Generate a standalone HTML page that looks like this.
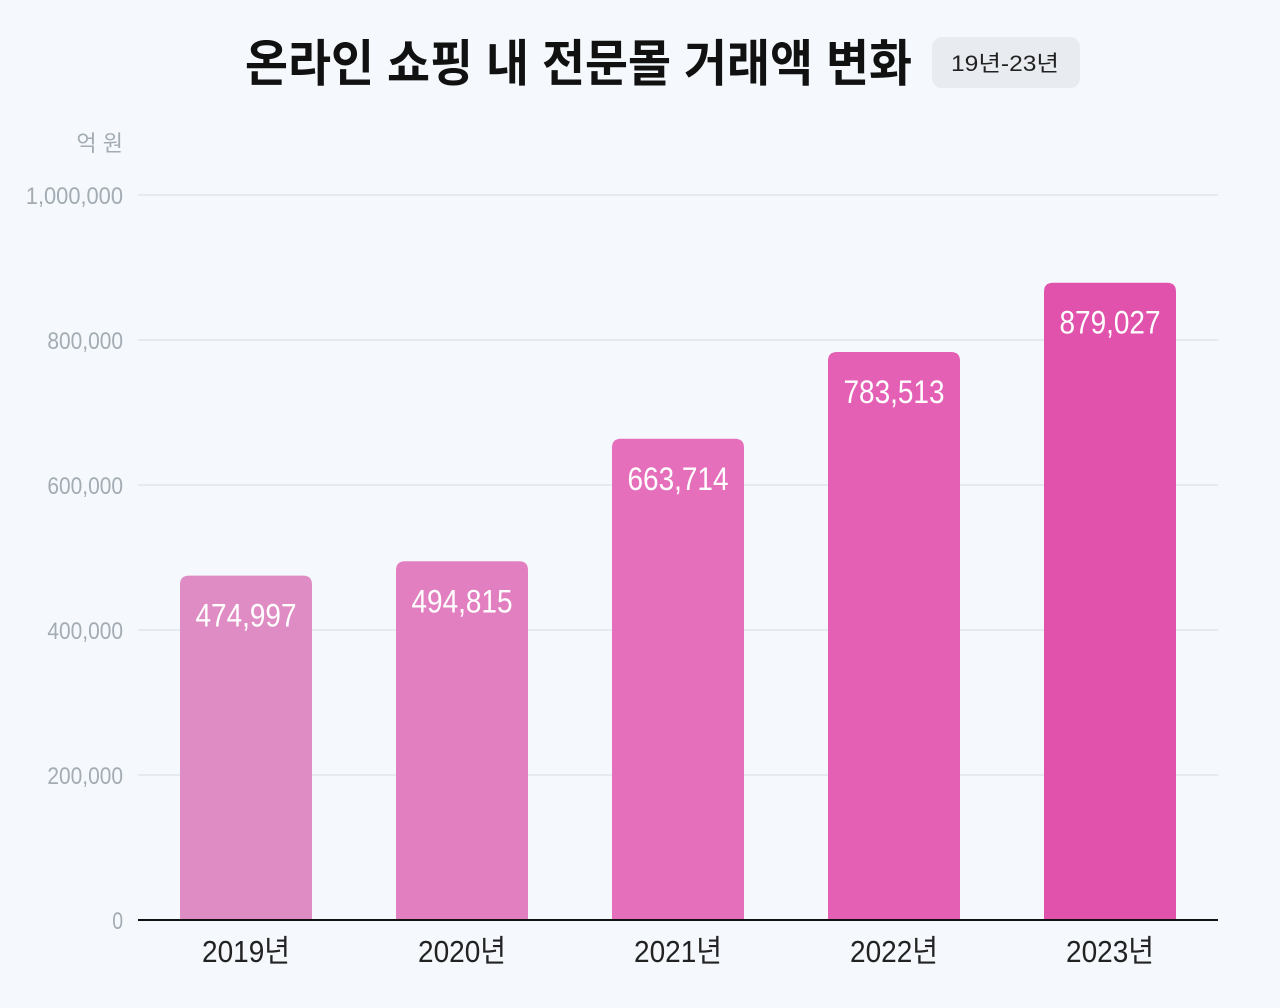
<!DOCTYPE html>
<html><head><meta charset="utf-8">
<style>
body{margin:0;background:#f5f9fd;width:1280px;height:1008px;overflow:hidden;font-family:"Liberation Sans","Noto Sans CJK KR",sans-serif;}
#wrap{position:relative;width:1280px;height:1008px;}
#badge{position:absolute;left:932px;top:37px;width:148px;height:51px;border-radius:10px;background:#e8ecf0;}
</style></head><body>
<div id="wrap">
<div id="badge"></div>
<svg id="chart" width="1280" height="1008" style="position:absolute;left:0;top:0">
<text x="245" y="81" font-size="50" font-weight="bold" fill="#111" textLength="667" lengthAdjust="spacingAndGlyphs" font-family="'Liberation Sans','Noto Sans CJK KR',sans-serif">온라인 쇼핑 내 전문몰 거래액 변화</text>
<text x="951" y="71" font-size="22" fill="#222" textLength="108" lengthAdjust="spacingAndGlyphs" font-family="'Liberation Sans','Noto Sans CJK KR',sans-serif">19년-23년</text>
</svg>
</div>
<script>
const categories=["2019년","2020년","2021년","2022년","2023년"];
const values=[474997,494815,663714,783513,879027];
const yTicks=[0,200000,400000,600000,800000,1000000];
const barColors=["#de8cc3","#e27fc0","#e56fbb","#e460b5","#e052ac"];
const NS="http://www.w3.org/2000/svg";
const svg=document.getElementById('chart');
const x0=138,x1=1218,y0=920,yTop=195,maxV=1000000;
const band=(x1-x0)/categories.length,bw=132;
function y(v){return y0-(v/maxV)*(y0-yTop);}
function xc(i){return x0+band*i+band/2;}
function mk(t,a){const e=document.createElementNS(NS,t);for(const k in a)e.setAttribute(k,a[k]);svg.appendChild(e);return e;}
const fmt=v=>v.toLocaleString('en-US');
yTicks.forEach(v=>{
 if(v>0){const g=mk('line',{x1:x0,x2:x1,y1:y(v),y2:y(v),stroke:'#dfe5ea','stroke-width':1.5});
 
 }
 const s=fmt(v);
 const t=mk('text',{x:123,y:y(v)+9,'text-anchor':'end','font-size':24,fill:'#a3abb3',textLength:s.length*10.8,lengthAdjust:'spacingAndGlyphs'});
 t.textContent=s;
 
 
});
const u=mk('text',{x:123,y:151,'text-anchor':'end','font-size':22,fill:'#a3abb3'});
u.textContent='억 원';


values.forEach((v,i)=>{
 const top=y(v),r=9,xl=xc(i)-bw/2;
 const p=mk('path',{d:`M${xl},${y0}V${top+r}Q${xl},${top} ${xl+r},${top}H${xl+bw-r}Q${xl+bw},${top} ${xl+bw},${top+r}V${y0}Z`,fill:barColors[i]});
 
 
 const t=mk('text',{x:xc(i),y:top+51,'text-anchor':'middle','font-size':32,fill:'#fff',textLength:101,lengthAdjust:'spacingAndGlyphs'});
 t.textContent=fmt(v);
 
 
 const c=mk('text',{x:xc(i),y:962,'text-anchor':'middle','font-size':31,fill:'#222',textLength:88,lengthAdjust:'spacingAndGlyphs'});
 c.textContent=categories[i];
 
 
});
const ax=mk('line',{x1:x0,x2:x1,y1:y0,y2:y0,stroke:'#111','stroke-width':2});


</script>
</body></html>
